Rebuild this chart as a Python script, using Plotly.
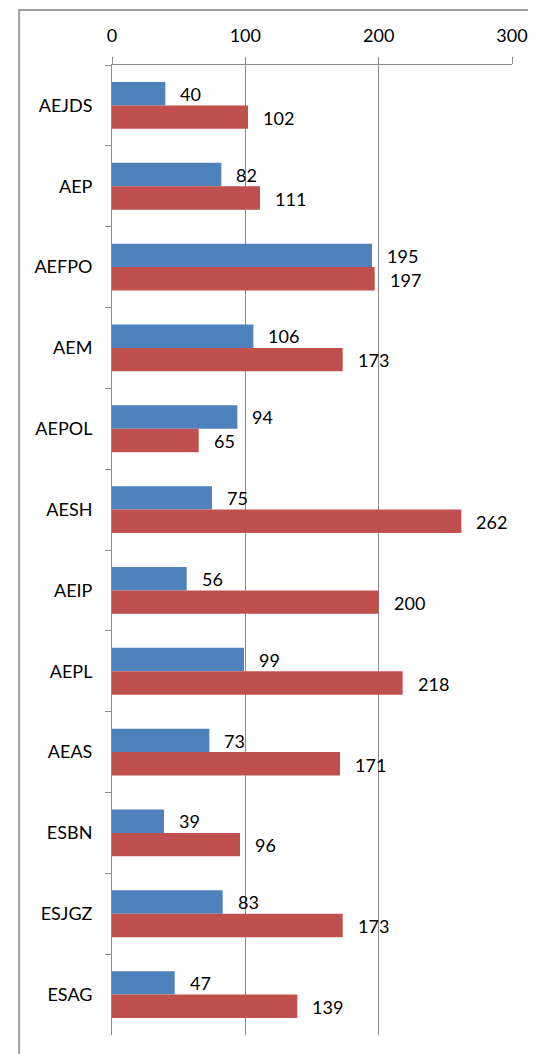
import plotly.graph_objects as go

categories = ["AEJDS", "AEP", "AEFPO", "AEM", "AEPOL", "AESH", "AEIP", "AEPL", "AEAS", "ESBN", "ESJGZ", "ESAG"]
series_blue = [40, 82, 195, 106, 94, 75, 56, 99, 73, 39, 83, 47]
series_red = [102, 111, 197, 173, 65, 262, 200, 218, 171, 96, 173, 139]
x_ticks = [0, 100, 200, 300]

BLUE = "#4F81BD"
RED = "#C0504D"
GRID = "#8C8C8C"
FONT = "Lato, Arial, sans-serif"
FS = 18

# page body adds an 8px offset; plot area on screen: x 112..512.5, y 65..1035
L, T, R, B = 104, 57, 31.5, 27
PW = 536 - L - R
PH = 1054 - T - B

fig = go.Figure()
fig.add_trace(go.Bar(y=categories, x=series_blue, orientation="h", marker=dict(color=BLUE, line=dict(width=0)), name="A"))
fig.add_trace(go.Bar(y=categories, x=series_red, orientation="h", marker=dict(color=RED, line=dict(width=0)), name="B"))

annotations = []
for c, v in zip(categories, series_blue):
    annotations.append(dict(x=v, y=c, xref="x", yref="y", text=str(v), showarrow=False,
                            xanchor="left", yanchor="middle", xshift=13, yshift=11.5,
                            font=dict(family=FONT, size=FS, color="#000")))
for c, v in zip(categories, series_red):
    annotations.append(dict(x=v, y=c, xref="x", yref="y", text=str(v), showarrow=False,
                            xanchor="left", yanchor="middle", xshift=13, yshift=-12.5,
                            font=dict(family=FONT, size=FS, color="#000")))

fig.update_layout(
    width=536, height=1054,
    margin=dict(l=L, r=R, t=T, b=B),
    paper_bgcolor="white", plot_bgcolor="white",
    barmode="group", bargap=0.42, bargroupgap=0,
    showlegend=False,
    font=dict(family=FONT, size=FS, color="#000"),
    annotations=annotations,
    shapes=[dict(type="rect", xref="paper", yref="paper",
                 x0=(11 - L) / PW, x1=1.5, y0=-0.2, y1=1 + (T - 2) / PH,
                 line=dict(color="#A0A0A0", width=2), fillcolor="rgba(0,0,0,0)", layer="below")],
)
fig.update_xaxes(side="top", range=[0, 300], tickvals=x_ticks, ticktext=[str(t) for t in x_ticks],
                 automargin=False,
                 showgrid=True, gridcolor=GRID, gridwidth=1, zeroline=False,
                 showline=True, linecolor=GRID, linewidth=1,
                 ticks="outside", ticklen=7, tickcolor=GRID, tickwidth=1,
                 ticklabelstandoff=8, tickfont=dict(family=FONT, size=FS, color="#000"))
fig.update_yaxes(autorange="reversed", type="category", showgrid=False, zeroline=False,
                 automargin=False,
                 showline=True, linecolor=GRID, linewidth=1,
                 ticks="outside", ticklen=6, tickcolor=GRID, tickwidth=1, tickson="boundaries",
                 ticklabelstandoff=15, tickfont=dict(family=FONT, size=FS, color="#000"))

fig.write_html("out.html")
